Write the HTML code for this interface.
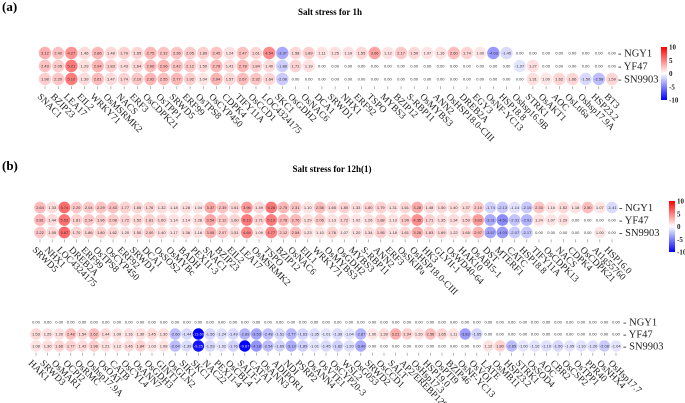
<!DOCTYPE html>
<html><head><meta charset="utf-8">
<style>
html,body{margin:0;padding:0;background:#fff;}
svg{display:block;font-family:"Liberation Serif",serif;}
</style></head>
<body>
<svg id="fig" width="685" height="403" viewBox="0 0 685 403" xmlns="http://www.w3.org/2000/svg">
<defs>
<linearGradient id="cbar" x1="0" y1="0" x2="0" y2="1">
<stop offset="0" stop-color="#ff0000"/><stop offset="0.5" stop-color="#ffffff"/><stop offset="1" stop-color="#0000ff"/>
</linearGradient>
</defs>
<rect width="685" height="403" fill="#fff"/>
<text x="2" y="11" font-size="13" font-weight="bold">(a)</text>
<text x="330" y="15" font-size="9" font-weight="bold" text-anchor="middle">Salt stress for 1h</text>
<text x="2" y="170" font-size="13" font-weight="bold">(b)</text>
<text x="332" y="172" font-size="9" font-weight="bold" text-anchor="middle">Salt stress for 12h(1)</text>
<g id="plots"></g>
</svg>
<script>
const rowNames = ["NGY1","YF47","SN9903"];

const genesA = ["SNAC1","BZIP23","LEA17","EIL2","WRKY71","OsMSRMK2","NACS","ERF3","OsCDPK21","OsTPP1","SRWD5","ERF99","OsTPS8","OsCYP450","CDPK4","TIFY11A","OsCCD1","LOC4324175","SKC1","OsGDH2","OsNAC6","DCA1","SRWD1","NHX1","ERF92","TSPO","MYBS3","BZIP12","S-RBP11","OsMYBS3","ANN2","OsHSP18.0-CIII","DREB2A","EGY3","OsNF-YC13","HSP18.8","Oshsp16.9B","STRK1","OsAKT1","AOC","OsLti6a","Oshsp17.9A","HSP23.2","BT3"];
const ngy1A = [3.12,2.42,4.27,1.46,2.86,1.48,1.79,1.65,2.75,2.32,2.36,2.05,1.89,2.45,1.24,2.47,1.61,4.54,-3.37,1.58,1.89,1.11,1.25,1.19,1.55,3.66,1.12,2.17,1.50,1.07,1.16,2.60,1.74,1.00,-4.03,-1.45,0,0,0,0,0,0,0,0];
const yf47A = [2.43,2.05,5.21,1.29,2.94,1.83,1.43,1.64,2.66,2.96,2.42,2.12,1.50,2.78,1.41,2.78,1.84,1.40,-1.88,1.71,1.19,0,0,0,0,0,0,0,0,0,0,0,0,0,0,0,-1.07,1.27,0,0,0,0,0,0];
const sn9903A = [1.98,2.20,5.10,1.39,2.61,1.47,1.74,2.10,2.92,2.55,2.77,1.92,1.04,2.94,1.57,2.67,2.32,1.64,-2.08,0,0,0,0,0,0,0,0,0,0,0,0,0,0,0,0,0,0,1.31,1.00,1.62,1.66,-1.50,-2.58,1.59];

const genesB1 = ["SRWD5","NHX1","LOC4324175","DREB2A","ERF99","OsTPS8","OsCYP450","ERF92","SRWD1","DCA1","OsSOS2","OsMYBc","BADH","PEX11-3","SNAC1","BZIP23","EIL2","LEA17","OsMSRMK2","TSPO","BZIP12","OsNAC6","EIL1","WRKY71","OsMYBS3","OsGDH2","MYBS3","S-RBP11","ANN2","ERF3","OsSKIPa","OsHSP18.0-CIII","HK3","GLYII-1","OsWD40-64","HAK10","OsABI5-1","DST","MTERF1","CATC","HSP18.8","TIFY11A","OsCDPK13","NACS","CDPK4","OsCDPK21","At1g55760","HSP16.0"];
const ngy1B1 = [2.64,1.33,5.74,2.20,2.04,2.29,2.43,1.77,1.65,1.76,1.32,1.18,1.28,1.04,3.37,2.39,1.61,3.96,1.49,5.28,2.75,2.31,1.10,2.56,1.65,1.80,1.33,1.80,1.79,1.31,1.61,3.28,1.48,1.50,1.40,1.37,2.10,-1.74,-2.13,-1.14,-2.10,2.33,1.10,1.52,1.18,2.50,1.07,-1.41];
const yf47B1 = [2.81,1.44,5.53,1.81,2.14,1.96,2.08,1.72,1.52,1.81,1.60,1.14,1.14,1.28,3.54,2.12,1.60,5.13,1.71,5.19,2.78,2.76,1.29,2.06,1.13,1.72,1.02,1.26,1.88,1.13,1.99,4.35,1.71,1.35,1.34,1.59,3.83,-3.31,-4.51,-2.31,-2.91,1.24,1.07,1.29,0,0,0,0];
const sn9903B1 = [2.22,1.55,5.87,1.70,1.86,1.80,1.62,1.20,1.50,2.00,1.40,1.17,1.36,1.16,3.05,2.07,1.51,4.69,1.09,4.77,2.12,2.54,1.23,1.10,1.76,1.07,1.20,1.34,1.95,1.18,1.61,3.28,1.83,1.69,1.22,1.65,2.97,-3.57,-4.03,-2.07,-2.17,0,0,0,0,0,1.00,0];

const genesB2 = ["HAK1","SRWD3","OsMAR1","OCPI2","OsRMC","Oshsp17.9A","OsOAT","CATB","OsCYL4","OsANN7","OsGDH3","GINT1","OsGLN2","SIK1","SKC1","NAC22","PEX11-4","OsCBL4","SALT-1","CATA1","OsANN3","ADIPOR1","NDI","PSRP2","OsANN4","OsVTE1","OsCYP20-3","WSL2","OsG053","SRWD2","OsCCD1","SALT","AP2/EREBP129","OsHsp17.3","HSP19.0","OsPTI9","BZIP46","OsNF-YC13","OsVOI","LATE","OsMB11","HSP23.2","STRK1","OsSOD4","AOC","CBR2","OsCSP2","OsTPP1","PPR40","OsNHX4","OsHsp17.7"];
const ngy1B2 = [0,0,0,0,0,0,0,0,0,0,0,0,0,0,0,0,0,0,0,0,0,0,0,0,0,0,0,0,0,0,0,0,0,0,0,0,0,0,0,0,0,0,0,0,0,0,0,0,0,0,0];
const yf47B2 = [1.53,1.25,1.20,2.48,1.54,2.62,1.44,1.09,1.16,1.30,1.45,1.30,-2.60,-1.44,-13.69,-1.56,-1.24,-1.49,-2.89,-3.53,-2.48,-1.51,-2.77,-1.63,-1.35,-1.01,-1.39,-1.04,-2.87,1.00,1.39,3.21,1.94,1.20,2.56,1.65,1.11,-3.83,-1.65,0,0,0,0,0,0,0,0,0,0,0,0];
const sn9903B2 = [1.08,1.30,1.66,1.77,1.43,1.98,1.21,1.12,1.46,1.84,1.03,1.08,-2.64,-1.39,-9.25,-1.53,-1.02,-1.76,-9.87,-4.18,-2.54,-1.69,-3.13,-1.89,-1.01,-1.45,-1.82,-1.20,-3.40,0,0,0,0,0,0,0,0,0,0,1.12,1.80,-2.65,-1.00,-1.10,-1.19,-1.50,-1.05,-1.10,-1.26,-2.08,-1.04];

const colorTicks = [10,5,0,-5,-10];

const NS = "http://www.w3.org/2000/svg";
const root = document.getElementById("plots");
function mk(tag, attrs, parent){
  const e = document.createElementNS(NS, tag);
  for (const k in attrs) e.setAttribute(k, attrs[k]);
  (parent||root).appendChild(e);
  return e;
}
function colorFor(v){
  const t = Math.min(1, Math.abs(v)/10);
  if (v >= 0){
    const gb = Math.round(255*(1-t));
    return `rgb(255,${gb},${gb})`;
  } else {
    const rg = Math.round(255*(1-t));
    return `rgb(${rg},${rg},255)`;
  }
}

function drawBlock(name, genes, series, x0, x1, rowY, r, labelX, cbar){
  const g = mk("g", {});
  
  
  const n = genes.length;
  const xs = i => x0 + (x1 - x0) * i / (n - 1);
  series.forEach((vals, ri) => {
    const y = rowY[ri];
    vals.forEach((v, i) => {
      const cx = xs(i);
      if (v !== 0){
        const c = mk("circle", {cx: cx, cy: y, r: r, fill: colorFor(v)}, g);
        
        
      }
      const t = mk("text", {x: cx, y: y + 1.5, "font-size": 4, "text-anchor": "middle", fill: Math.abs(v) > 8 ? "#ddd" : "#333", "font-family": "Liberation Sans, sans-serif"}, g);
      t.textContent = v.toFixed(2);
      
      
    });
    const rl = mk("text", {x: labelX, y: y + 3.5, "font-size": 10.5, fill: "#222"}, g);
    rl.textContent = "- " + rowNames[ri];
    
    
  });
  const yb = rowY[2];
  genes.forEach((gn, i) => {
    const cx = xs(i);
    const tk = mk("line", {x1: cx, x2: cx, y1: yb + r + 1, y2: yb + r + 4, stroke: "#888", "stroke-width": 0.6}, g);
    
    
    const tx = cx - 4, ty = yb + r + 8;
    const t = mk("text", {x: tx, y: ty, "font-size": 9.5, fill: "#222", transform: `rotate(45 ${tx} ${ty})`, "dominant-baseline": "hanging"}, g);
    t.textContent = gn;
    
    
  });
  if (cbar){
    const cb = mk("rect", {x: cbar.x, y: cbar.y, width: cbar.w, height: cbar.h, fill: "url(#cbar)"}, g);
    
    
    colorTicks.forEach(v => {
      const ty = cbar.y + (10 - v) / 20 * cbar.h;
      const t = mk("text", {x: cbar.x + cbar.w + 2, y: ty + 2.5, "font-size": 7, "font-weight": "bold", fill: "#222"}, g);
      t.textContent = String(v);
      
      
    });
  }
}

drawBlock("heatmap-1h", genesA, [ngy1A, yf47A, sn9903A], 45, 612, [53, 66, 79], 6.2, 618, {x: 661, y: 47, w: 6, h: 53});
drawBlock("heatmap-12h-part1", genesB1, [ngy1B1, yf47B1, sn9903B1], 40, 612, [207.5, 220, 232.5], 5.9, 619, {x: 669, y: 201, w: 6, h: 51});
drawBlock("heatmap-12h-part2", genesB2, [ngy1B2, yf47B2, sn9903B2], 36, 616, [322, 334, 346], 5.7, 623, null);
</script>
</body></html>
